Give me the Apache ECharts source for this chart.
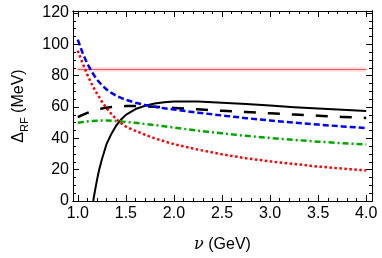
<!DOCTYPE html>
<html><head><meta charset="utf-8">
<script src="https://cdn.jsdelivr.net/npm/echarts@6/dist/echarts.min.js"></script>
<style>html,body{margin:0;padding:0;background:#fff}#c{width:382px;height:258px}</style>
</head><body><div id="c"></div>
<script>
// ---- data ----
const xMajor = [1.0, 1.5, 2.0, 2.5, 3.0, 3.5, 4.0];
const xMinor = [1.0,1.1,1.2,1.3,1.4,1.5,1.6,1.7,1.8,1.9,2.0,2.1,2.2,2.3,2.4,2.5,2.6,2.7,2.8,2.9,3.0,3.1,3.2,3.3,3.4,3.5,3.6,3.7,3.8,3.9,4.0];
const yMajor = [0, 20, 40, 60, 80, 100, 120];
const yMinor = [0,5,10,15,20,25,30,35,40,45,50,55,60,65,70,75,80,85,90,95,100,105,110,115,120];

const nu = [1.0, 1.05, 1.1, 1.15, 1.2, 1.25, 1.3, 1.35, 1.4, 1.45, 1.5, 1.6, 1.7, 1.8, 1.9, 2.0, 2.25, 2.5, 2.75, 3.0, 3.25, 3.5, 3.75, 4.0];
const blueDashed   = [103, 94.5, 87.5, 82, 77.5, 74, 71.2, 69, 67.2, 65.8, 64.6, 62.7, 61.3, 60.1, 59.2, 58.4, 56.4, 54.6, 52.9, 51.4, 50, 48.8, 47.6, 46.6];
const redDotted    = [96, 88, 80.5, 74, 68.5, 63.5, 59.2, 55.5, 52.3, 49.7, 47.5, 44.8, 42.3, 40, 38.1, 36.3, 32.8, 29.8, 27.3, 25.3, 23.6, 22, 20.7, 19.5];
const greenDashDot = [50, 50.4, 50.8, 51.1, 51.3, 51.4, 51.4, 51.3, 51.1, 50.8, 50.5, 49.9, 49.2, 48.5, 47.7, 46.9, 44.9, 43.2, 41.6, 40.2, 39, 37.9, 36.9, 36.1];
const blackDashed  = [53.5, 55, 56.3, 57.4, 58.3, 59, 59.6, 60, 60.3, 60.5, 60.6, 60.6, 60.4, 60.1, 59.8, 59.4, 58.5, 57.6, 56.8, 56, 55.2, 54.5, 53.7, 53];

const nuSolid    = [1.16, 1.18, 1.2, 1.22, 1.25, 1.3, 1.35, 1.4, 1.45, 1.5, 1.6, 1.7, 1.8, 1.9, 2.0, 2.25, 2.5, 2.75, 3.0, 3.25, 3.5, 3.75, 4.0];
const blackSolid = [0, 7, 13.5, 19.5, 26.5, 36.5, 43, 48.2, 52, 55, 58.7, 60.8, 62.3, 63.1, 63.6, 63.6, 62.8, 61.9, 60.9, 59.9, 59, 58.2, 57.4];

const horizNu = [1.0, 4.0];
const horizVal = [84, 84];

// ---- chart ----
const pair = (xs, ys) => xs.map((x, i) => [x, ys[i]]);
const X_MIN = 0.95, X_MAX = 4.06, Y_MIN = 0, Y_MAX = 121.3;
const font = 'Liberation Sans, Arial, sans-serif';

function xAx(pos, vals, len, labels) {
  return {
    type: 'value', position: pos, min: X_MIN, max: X_MAX,
    axisLine: { show: true, onZero: false, lineStyle: { color: '#000', width: 1 } },
    axisTick: { show: true, inside: true, length: len, customValues: vals, lineStyle: { color: '#000', width: 1 } },
    axisLabel: labels ? { show: true, customValues: xMajor, color: '#000', fontSize: 16, fontFamily: font, margin: 5,
      formatter: v => v.toFixed(1) } : { show: false },
    splitLine: { show: false }
  };
}
function yAx(pos, vals, len, labels) {
  return {
    type: 'value', position: pos, min: Y_MIN, max: Y_MAX,
    axisLine: { show: true, onZero: false, lineStyle: { color: '#000', width: 1 } },
    axisTick: { show: true, inside: true, length: len, customValues: vals, lineStyle: { color: '#000', width: 1 } },
    axisLabel: labels ? { show: true, customValues: yMajor, color: '#000', fontSize: 16, fontFamily: font, margin: 4 } : { show: false },
    splitLine: { show: false }
  };
}

const xAxes = [xAx('bottom', xMajor, 6, true), xAx('bottom', xMinor, 3, false), xAx('top', xMajor, 6, false), xAx('top', xMinor, 3, false)];
xAxes[0].name = '{i|ν} (GeV)';
xAxes[0].nameLocation = 'middle';
xAxes[0].nameGap = 36;
xAxes[0].nameTextStyle = { color: '#000', fontSize: 16, fontFamily: font, rich: { i: { fontStyle: 'italic', fontSize: 16, fontFamily: 'DejaVu Serif, serif', color: '#000' } } };

const yAxes = [yAx('left', yMajor, 6, true), yAx('left', yMinor, 3, false), yAx('right', yMajor, 6, false), yAx('right', yMinor, 3, false)];
yAxes[0].name = '{d|Δ}{s|RF} (MeV)';
yAxes[0].nameLocation = 'middle';
yAxes[0].nameGap = 43;
yAxes[0].nameRotate = 90;
yAxes[0].nameTextStyle = { color: '#000', fontSize: 16, fontFamily: font, lineHeight: 22,
  rich: { d: { fontSize: 16, fontFamily: font, color: '#000', lineHeight: 22 },
          s: { fontSize: 11, fontFamily: font, color: '#000', lineHeight: 22, verticalAlign: 'bottom', padding: [6, 0, 0, 0] } } };

function line(data, color, width, type) {
  return { type: 'line', xAxisIndex: 0, yAxisIndex: 0, data, showSymbol: false, symbol: 'none',
    smooth: false, clip: true, silent: true,
    lineStyle: { color, width, type, cap: 'butt', join: 'round' }, z: 3 };
}

const option = {
  animation: false,
  backgroundColor: '#fff',
  grid: { left: 63, right: 10, top: 11, bottom: 56 },
  xAxis: xAxes,
  yAxis: yAxes,
  series: [
    Object.assign(line(pair(horizNu, horizVal), 'rgba(255,80,80,0.15)', 5, 'solid'), { z: 1 }),
    Object.assign(line(pair(horizNu, horizVal), '#f04a4a', 1, 'solid'), { z: 2 }),
    line(pair(nuSolid, blackSolid), '#000', 2, 'solid'),
    line(pair(nu, blackDashed), '#000', 2.5, [12, 12]),
    line(pair(nu, greenDashDot), '#00a800', 2.5, [6, 3, 2, 3]),
    line(pair(nu, redDotted), '#ff0000', 2.5, [2.5, 2.5]),
    line(pair(nu, blueDashed), '#0000ff', 2.5, [6, 3])
  ]
};
const chart = echarts.init(document.getElementById('c'), null, { renderer: 'canvas' });
chart.setOption(option);
</script>
</body></html>
